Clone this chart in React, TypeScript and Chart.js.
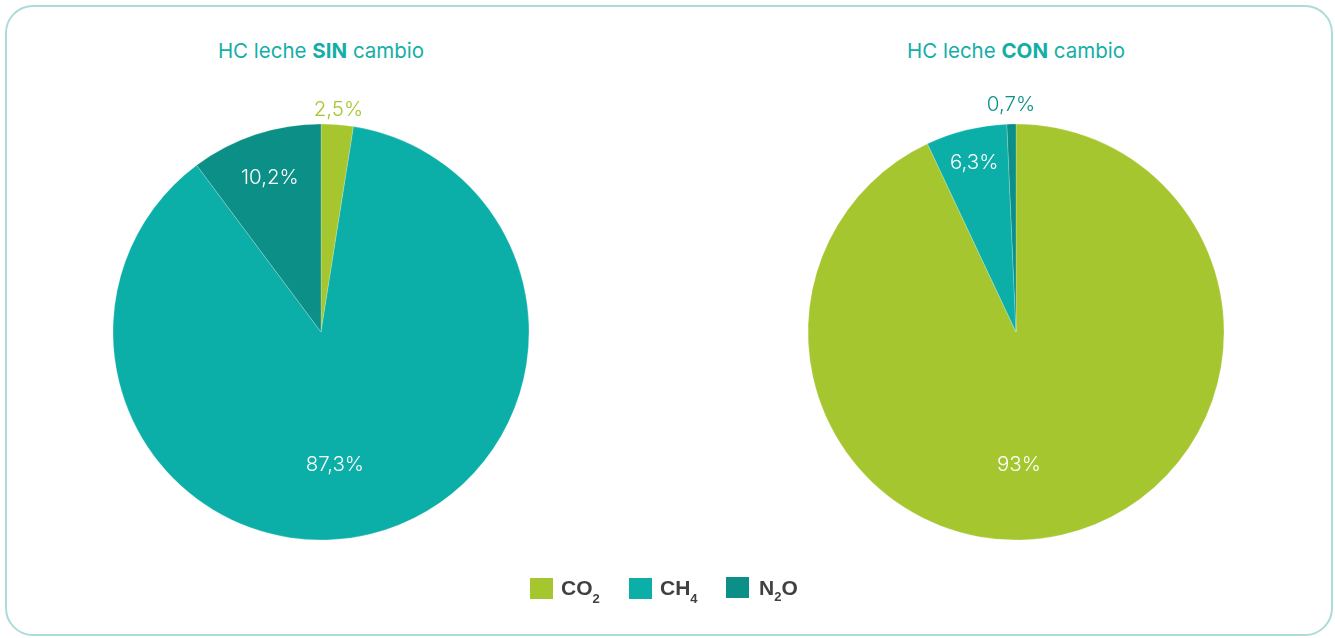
import React, { useEffect, useRef } from "react";
import { Chart, registerables } from "chart.js";

Chart.register(...registerables);

// Gases and their share of the milk carbon footprint (%)
const gases = ["CO2", "CH4", "N2O"];
const gasSubscripts = ["2", "4", "2"];
const sinCambio = [2.5, 87.3, 10.2];
const conCambio = [93, 6.3, 0.7];

const gasColors = ["#a6c62f", "#0bafa7", "#0b8f87"];
const titleColor = "#14aea6";
const FONT = "Inter, 'Noto Sans', sans-serif";

type LabelPlace = { dist: number; outside?: boolean; clockDeg?: number };

const fmt = (v: number) => String(v).replace(".", ",") + "%";

const CANVAS = 500;

const pieLabelPlugin = {
  id: "pieLabels",
  afterDatasetsDraw(chart: any) {
    const places: LabelPlace[] = chart.options.plugins.pieLabels?.places || [];
    const ctx = chart.ctx;
    const meta = chart.getDatasetMeta(0);
    const data = chart.data.datasets[0].data as number[];
    ctx.save();
    ctx.font = `300 20.5px ${FONT}`;
    ctx.textAlign = "center";
    ctx.textBaseline = "middle";
    meta.data.forEach((arc: any, i: number) => {
      const { x, y, startAngle, endAngle, outerRadius } = arc.getProps(
        ["x", "y", "startAngle", "endAngle", "outerRadius"],
        true
      );
      const p = places[i] || { dist: 0.7 };
      const ang =
        p.clockDeg !== undefined
          ? ((p.clockDeg - 90) * Math.PI) / 180
          : (startAngle + endAngle) / 2;
      const r = outerRadius * p.dist;
      ctx.fillStyle = p.outside ? gasColors[i] : "#ffffff";
      ctx.fillText(fmt(data[i]), x + Math.cos(ang) * r, y + Math.sin(ang) * r);
    });
    ctx.restore();
  },
};

function PieChart({
  values,
  places,
}: {
  values: number[];
  places: LabelPlace[];
}) {
  const ref = useRef<HTMLCanvasElement>(null);
  useEffect(() => {
    if (!ref.current) return;
    const chart = new Chart(ref.current, {
      type: "pie",
      data: {
        labels: gases,
        datasets: [
          {
            data: values,
            backgroundColor: gasColors,
            borderColor: "rgba(255,255,255,0.35)",
            borderWidth: 0.6,
          },
        ],
      },
      options: {
        animation: false,
        responsive: false,
        maintainAspectRatio: false,
        radius: 208,
        layout: { padding: 0 },
        plugins: {
          legend: { display: false },
          tooltip: { enabled: false },
          pieLabels: { places },
        } as any,
      },
      plugins: [pieLabelPlugin],
    });
    return () => chart.destroy();
  }, []);
  return <canvas ref={ref} width={CANVAS} height={CANVAS} />;
}

function Title({ bold }: { bold: string }) {
  return (
    <span>
      HC leche <b style={{ fontWeight: 700 }}>{bold}</b> cambio
    </span>
  );
}

export default function App() {
  const titleStyle: React.CSSProperties = {
    position: "absolute",
    top: 37,
    width: 460,
    textAlign: "center",
    fontFamily: FONT,
    fontSize: 20.5,
    color: titleColor,
    lineHeight: "28px",
  };
  const pieCenters = [321, 1016];
  const pieCenterY = 332;
  return (
    <div
      style={{
        position: "fixed",
        left: 0,
        top: 0,
        width: 1335,
        height: 638,
        background: "#ffffff",
        overflow: "hidden",
      }}
    >
      <div
        style={{
          position: "absolute",
          left: 5,
          top: 5,
          width: 1324,
          height: 627,
          border: "2px solid #abdcd8",
          borderRadius: 28,
        }}
      />
      <div style={{ ...titleStyle, left: pieCenters[0] - 230 }}>
        <Title bold="SIN" />
      </div>
      <div style={{ ...titleStyle, left: pieCenters[1] - 230 }}>
        <Title bold="CON" />
      </div>
      <div
        style={{
          position: "absolute",
          left: pieCenters[0] - CANVAS / 2,
          top: pieCenterY - CANVAS / 2,
        }}
      >
        <PieChart
          values={sinCambio}
          places={[
            { dist: 1.07, outside: true },
            { dist: 0.64, clockDeg: 174 },
            { dist: 0.78 },
          ]}
        />
      </div>
      <div
        style={{
          position: "absolute",
          left: pieCenters[1] - CANVAS / 2,
          top: pieCenterY - CANVAS / 2,
        }}
      >
        <PieChart
          values={conCambio}
          places={[
            { dist: 0.64, clockDeg: 178.7 },
            { dist: 0.84 },
            { dist: 1.09, outside: true },
          ]}
        />
      </div>
      {gases.map((g, i) => (
        <div
          key={g}
          style={{
            position: "absolute",
            left: [530, 629, 726][i],
            top: 576,
            display: "flex",
            alignItems: "flex-start",
            fontFamily: "'Liberation Sans', Arial, sans-serif",
            fontWeight: 700,
            fontSize: 21,
            color: "#404040",
          }}
        >
          <div
            style={{
              width: 23,
              height: 21,
              background: gasColors[i],
              marginTop: i === 2 ? 1 : 2,
              marginRight: i === 2 ? 10 : 8,
            }}
          />
          <span style={{ lineHeight: "24px", whiteSpace: "nowrap" }}>
            {i === 2 ? (
              <>
                N<sub style={{ fontSize: 13, verticalAlign: -6 }}>2</sub>O
              </>
            ) : (
              <>
                {g.slice(0, 2)}
                <sub style={{ fontSize: 13, verticalAlign: -8 }}>
                  {gasSubscripts[i]}
                </sub>
              </>
            )}
          </span>
        </div>
      ))}
    </div>
  );
}
